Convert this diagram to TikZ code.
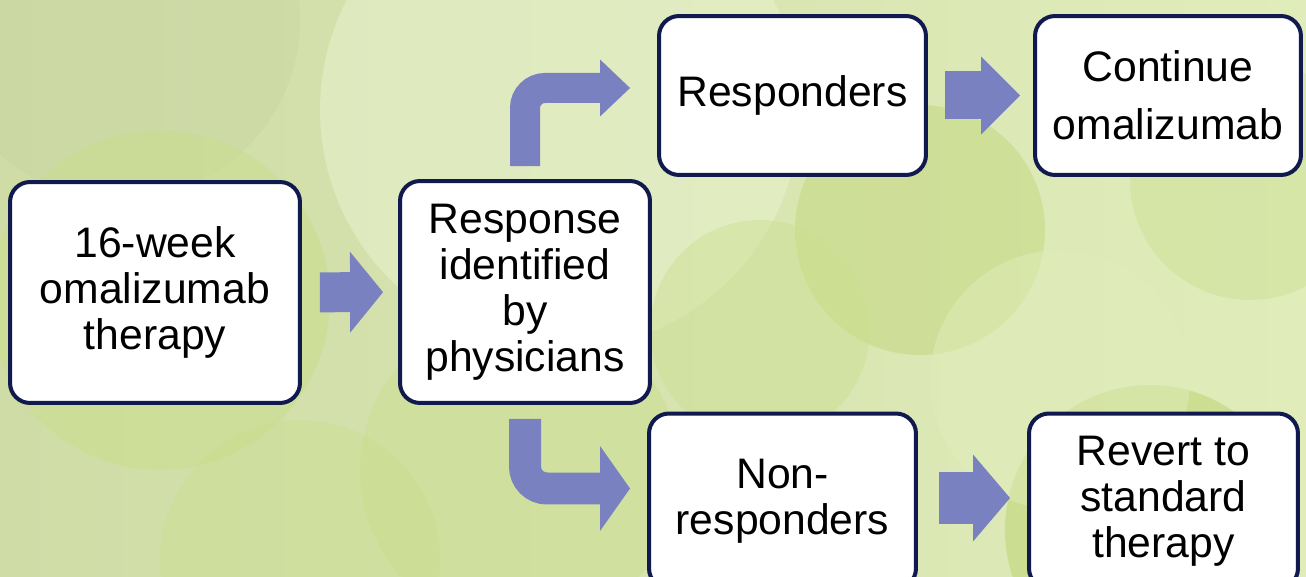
\documentclass[tikz,border=0pt]{standalone}
\usepackage{fontspec}
\setmainfont{Liberation Sans}
\usetikzlibrary{arrows.meta}
\definecolor{navy}{RGB}{16,26,78}
\definecolor{arrowblue}{RGB}{121,129,193}
\definecolor{leafpale}{RGB}{224,236,186}
\definecolor{leafgray}{RGB}{208,220,166}
\definecolor{leafmid}{RGB}{200,222,140}
\definecolor{leafdark}{RGB}{182,208,100}
\tikzstyle{box}=[draw=navy,line width=0.08cm,fill=white,rounded corners=0.4cm,align=center,font=\fontsize{24.3}{26.2}\selectfont]
\tikzstyle{flow}=[arrowblue,line cap=butt]

\begin{document}
\begin{tikzpicture}[x=0.02cm,y=-0.02cm]
\useasboundingbox (0,0) rectangle (1306,577);

% background leaves
\begin{scope}
\clip (0,0) rectangle (1306,577);
\fill[left color=leafgray,right color=leafpale] (0,0) rectangle (1306,577);
\fill[leafgray!92!gray,opacity=0.45] (120,20) circle (3.6cm);
\fill[leafpale!70!white,opacity=0.55] (560,110) circle (4.8cm);
\fill[leafmid,opacity=0.55] (160,300) circle (3.4cm);
\fill[leafmid,opacity=0.45] (520,470) circle (3.2cm);
\fill[leafdark,opacity=0.35] (920,230) circle (2.5cm);
\fill[leafmid,opacity=0.4] (760,330) circle (2.2cm);
\fill[leafdark,opacity=0.45] (1150,530) circle (2.9cm);
\fill[leafmid,opacity=0.4] (1250,180) circle (2.4cm);
\fill[leafpale,opacity=0.5] (1060,380) circle (2.6cm);
\fill[leafmid,opacity=0.4] (300,560) circle (2.8cm);
\end{scope}

\node[box,minimum width=5.8cm,minimum height=4.42cm] (therapy) at (155,292.5) {16-week\\omalizumab\\therapy};
\node[box,minimum width=5.0cm,minimum height=4.44cm] (response) at (525,292) {Response\\identified\\by\\physicians};

\node[box,minimum width=5.34cm,minimum height=3.18cm] (responders) at (792.5,95.5) {Responders};
\node[box,minimum width=5.32cm,minimum height=3.18cm] (continue) at (1168,95.5) {Continue\\[0.24cm]omalizumab};

\node[box,minimum width=5.34cm,minimum height=3.5cm] (nonresponders) at (782.5,501) {Non-\\responders};
\node[box,minimum width=5.38cm,minimum height=3.5cm] (revert) at (1163.5,501) {Revert to\\standard\\therapy};

\draw[flow,line width=0.8cm,shorten <=0.36cm,shorten >=0.3cm,
  -{Triangle[length=0.66cm,width=1.62cm,line width=0pt]}] (therapy) -- (response);

\draw[flow,line width=0.6cm,rounded corners=0.4cm,shorten <=0.26cm,shorten >=0.54cm,
  -{Triangle[length=0.6cm,width=1.14cm,line width=0pt]}] (response.north) |- ([yshift=0.15cm]responders.west);
\draw[flow,line width=0.64cm,rounded corners=0.44cm,shorten <=0.28cm,shorten >=0.34cm,
  -{Triangle[length=0.6cm,width=1.7cm,line width=0pt]}] (response.south) |- ([yshift=0.25cm]nonresponders.west);

\draw[flow,line width=0.96cm,shorten <=0.34cm,shorten >=0.26cm,
  -{Triangle[length=0.78cm,width=1.56cm,line width=0pt]}] (responders) -- (continue);
\draw[flow,line width=1.06cm,shorten <=0.42cm,shorten >=0.34cm,
  -{Triangle[length=0.74cm,width=1.74cm,line width=0pt]}] ([yshift=0.06cm]nonresponders.east) -- ([yshift=0.06cm]revert.west);
\end{tikzpicture}
\end{document}
